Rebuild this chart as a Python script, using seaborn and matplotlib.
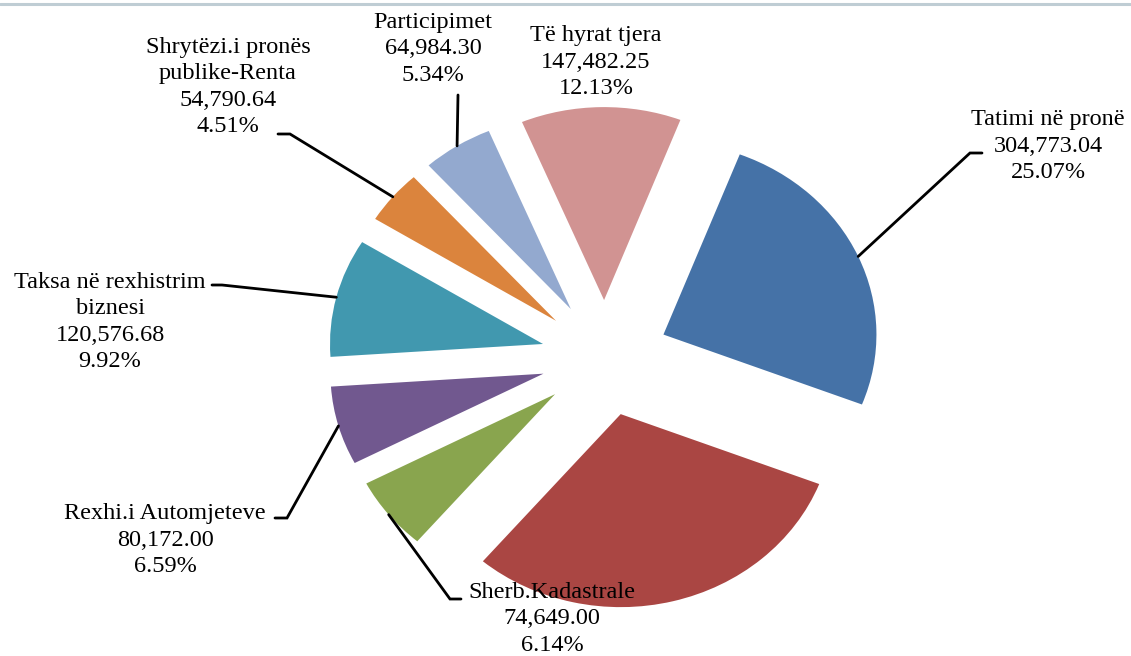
import numpy as np
import matplotlib
matplotlib.use("Agg")
import matplotlib.pyplot as plt
from matplotlib.lines import Line2D
import seaborn as sns

# revenue categories (clockwise from the top-right slice)
categories = ["Tatimi në pronë", "", "Sherb.Kadastrale", "Rexhi.i Automjeteve",
              "Taksa në rexhistrim\nbiznesi", "Shrytëzi.i pronës\npublike-Renta",
              "Participimet", "Të hyrat tjera"]
values = [304773.04, 368394.00, 74649.00, 80172.00, 120576.68, 54790.64, 64984.30, 147482.25]
colors = ["#4572A7", "#AA4643", "#89A54E", "#71588F",
          "#4198AF", "#DB843D", "#93A9CF", "#D19392"]

sns.set_theme(style="white")
plt.rcParams["font.family"] = ["Liberation Serif", "DejaVu Serif"]

fig = plt.figure(figsize=(11.31, 6.56), dpi=100)
ax = fig.add_axes([0, 0, 1, 1])

wedges, _ = ax.pie(values, colors=colors, startangle=69, counterclock=False,
                   explode=[0.3] * len(values),
                   wedgeprops={"linewidth": 0})
ax.set_aspect("auto")
# pixel layout: centre at (605, 358), radius 213 x 193 px
cx, cy, rx, ry = 605, 358, 213, 193
ax.set_xlim((0 - cx) / rx, (1131 - cx) / rx)
ax.set_ylim((656 - cy) / -ry, (0 - cy) / -ry)


def px(x, y):
    return (x - cx) / rx, (cy - y) / ry


# label centre and leader elbow / end (in pixels), None = no leader
label_pos = [(1048, 146), None, (552, 619), (165, 540), (110, 322),
             (228, 87), (433, 49), (596, 62)]
leaders = [((970, 153), (982, 153)), None, ((450, 599), (461, 599)),
           ((287, 518), (275, 518)), ((222, 285), (212, 285)),
           ((290, 134), (278, 134)), ((458, 95), (458, 95)), None]

total = sum(values)
for i, w in enumerate(wedges):
    if label_pos[i] is None:
        continue
    txt = "%s\n%s\n%.2f%%" % (categories[i], format(values[i], ",.2f"), values[i] / total * 100)
    lx, ly = px(*label_pos[i])
    ax.text(lx, ly, txt, ha="center", va="center", fontsize=17.5,
            linespacing=1.33, color="black", zorder=5)
    if leaders[i] is not None:
        mid = np.deg2rad((w.theta1 + w.theta2) / 2)
        ax0 = w.center[0] + w.r * np.cos(mid)
        ay0 = w.center[1] + w.r * np.sin(mid)
        (ex, ey), (tx, ty) = leaders[i]
        ex, ey = px(ex, ey)
        tx, ty = px(tx, ty)
        ax.plot([ax0, ex, tx], [ay0, ey, ty], color="black", lw=2.0,
                solid_joinstyle="miter", zorder=4)

fig.add_artist(Line2D([0, 1], [1 - 4 / 656, 1 - 4 / 656], transform=fig.transFigure,
                      color="#BFCDD4", lw=2.2))

plt.savefig("out.png", dpi=100)
